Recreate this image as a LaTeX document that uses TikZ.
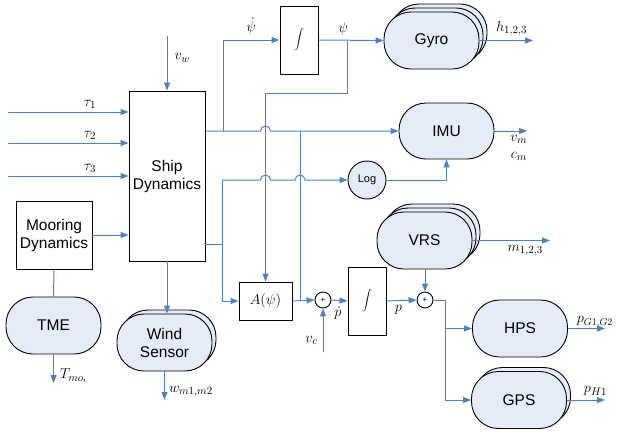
\documentclass[tikz,border=0pt]{standalone}
\usepackage{fontspec}
\setmainfont{Liberation Sans}
\usepackage{tikz}
\usetikzlibrary{calc,arrows.meta,shadows}
\usepackage{xcolor}
\definecolor{sigblue}{HTML}{4F81BD}
\definecolor{devfill}{HTML}{E5ECF7}
\tikzset{
  block/.style={draw=black, line width=0.9pt, fill=white, align=center,
    inner sep=2pt, font=\fontsize{15.5}{18}\selectfont},
  intblock/.style={block, minimum width=38pt, minimum height=68pt, font=\fontsize{12}{14}\selectfont},
  device/.style={block, fill=devfill, rounded corners=27pt, minimum width=95pt, minimum height=57pt},
  device2/.style={device, copy shadow={shadow xshift=4pt, shadow yshift=4pt,
    fill=devfill, draw=black, line width=0.9pt}},
  device3/.style={device, double copy shadow={shadow xshift=4pt, shadow yshift=4pt,
    fill=devfill, draw=black, line width=0.9pt}},
  sumnode/.style={circle, draw=black, line width=0.9pt, fill=white, minimum size=16pt,
    inner sep=0pt, font=\fontsize{8}{8}\selectfont},
  sig/.style={draw=sigblue, line width=1pt},
  arr/.style={sig, -{Triangle[length=8pt,width=6pt]}},
  lbl/.style={font=\fontsize{15}{17}\selectfont, inner sep=1pt}
}
\begin{document}
\begin{tikzpicture}[x=1pt, y=-1pt]
  \useasboundingbox (0,0) rectangle (618,432);

  % blocks
  \node[block, minimum width=76pt, minimum height=170pt] (ship) at (167,176) {Ship\\Dynamics};
  \node[block, minimum width=76pt, minimum height=68pt] (moor) at (54,235) {Mooring\\Dynamics};
  \node[device] (tme) at (53.5,325.5) {TME};
  \node[device2] (wind) at (164.5,342.5) {Wind\\Sensor};
  \node[intblock] (int1) at (299,40) {$\displaystyle\int$};
  \node[device3] (gyro) at (431.5,40.5) {Gyro};
  \node[device, minimum height=56pt] (imu) at (446.5,131) {IMU};
  \node[block, circle, fill=devfill, minimum size=38pt, inner sep=0pt,
    font=\fontsize{11}{12}\selectfont] (log) at (367,180) {Log};
  \node[block, minimum width=53pt, minimum height=38pt] (apsi) at (265.5,301) {$A(\psi)$};
  \node[sumnode] (sum1) at (323,300) {+};
  \node[intblock] (int2) at (367,301) {$\displaystyle\int$};
  \node[sumnode] (sum2) at (425,300) {+};
  \node[device3] (vrs) at (424.5,240.5) {VRS};
  \node[device] (hps) at (520,328.5) {HPS};
  \node[device2] (gps) at (519,400) {GPS};

  % free ends and junctions
  \coordinate (tau1) at (8,112);
  \coordinate (tau2) at (8,143);
  \coordinate (tau3) at (8,176);
  \coordinate (vw) at (167,36);
  \coordinate (tmo) at (53.5,383);
  \coordinate (wout) at (164.5,400);
  \coordinate (ja) at (223,131);
  \coordinate (jb) at (300,131);
  \coordinate (jc) at (347,40.5);
  \coordinate (jd) at (347,93);
  \coordinate (je) at (222,244);
  \coordinate (jf) at (445,300);
  \coordinate (hout) at (533,40.5);
  \coordinate (vmout) at (527,131);
  \coordinate (vc) at (323,352);
  \coordinate (mout) at (550,240.5);
  \coordinate (pgout) at (605,328.5);
  \coordinate (phout) at (605,400);

  % inputs
  \draw[arr] (tau1) -- (tau1 -| ship.west) node[lbl, pos=0.68, above=2pt] {$\tau_1$};
  \draw[arr] (tau2) -- (tau2 -| ship.west) node[lbl, pos=0.68, above=2pt] {$\tau_2$};
  \draw[arr] (tau3) -- (tau3 -| ship.west) node[lbl, pos=0.68, above=2pt] {$\tau_3$};
  \draw[arr] (vw) -- (ship.north) node[lbl, pos=0.4, right=6pt] {$v_w$};
  \draw[arr] (moor.east) -- (moor.east -| ship.west);
  \draw[sig] (moor.south) -- (tme.north);
  \draw[arr] (tme.south) -- (tmo) node[lbl, pos=0.75, right=5pt] {$T_{mo_i}$};
  \draw[arr] (ship.south) -- (ship.south |- wind.north);
  \draw[arr] (wind.south) -- (wout) node[lbl, pos=0.7, right=3pt] {$w_{m1,m2}$};

  % heading loop
  \draw[arr] (ship.east |- imu.west) -- ([xshift=-5pt]apsi.north |- imu.west)
    arc[start angle=180, end angle=0, radius=5pt] -- (imu.west);
  \draw[arr] (ja) |- (int1.west) node[lbl, pos=0.75, above=4pt] {$\dot\psi$};
  \draw[sig] (jb) -- (jb |- apsi.east);
  \draw[arr] (int1.east) -- (gyro.west) node[lbl, pos=0.38, above=3pt] {$\psi$};
  \draw[arr] (jc) -- (jd) -| (apsi.north);
  \draw[arr] (gyro.east) -- (hout) node[lbl, pos=0.6, above=3pt] {$h_{1,2,3}$};
  \draw[arr] (imu.east) -- (vmout) node[lbl, pos=0.75, below=3pt, align=center] {$v_m$\\$c_m$};

  % velocity path
  \draw[sig] (ship.east |- je) -- (je);
  \draw[arr] (je |- log.west) -- ([xshift=-5pt]apsi.north |- log.west)
    arc[start angle=180, end angle=0, radius=5pt]
    -- ([xshift=-5pt]jb |- log.west)
    arc[start angle=180, end angle=0, radius=5pt] -- (log.west);
  \draw[arr] (je |- log.west) |- (apsi.west);
  \draw[arr] (log.east) -| (imu.south);
  \draw[arr] (apsi.east) -- (sum1.west);
  \draw[arr] (vc) -- (sum1.south) node[lbl, pos=0.27, left=4pt] {$v_c$};
  \draw[arr] (sum1.east) -- (int2.west) node[lbl, pos=0.4, below=5pt] {$\dot p$};
  \draw[arr] (int2.east) -- (sum2.west) node[lbl, pos=0.4, below=3pt] {$p$};
  \draw[arr] (vrs.south -| sum2) -- (sum2.north);
  \draw[arr] (vrs.east) -- (mout) node[lbl, pos=0.68, below=3pt] {$m_{1,2,3}$};

  % position sensors
  \draw[sig] (sum2.east) -- (jf);
  \draw[arr] (jf) |- (gps.west);
  \draw[arr] (jf |- hps.west) -- (hps.west);
  \draw[arr] (hps.east) -- (pgout) node[lbl, pos=0.2, anchor=south west, font=\fontsize{14}{16}\selectfont] {$p_{G1,G2}$};
  \draw[arr] (gps.east) -- (phout) node[lbl, pos=0.75, above=3pt] {$p_{H1}$};
\end{tikzpicture}
\end{document}
